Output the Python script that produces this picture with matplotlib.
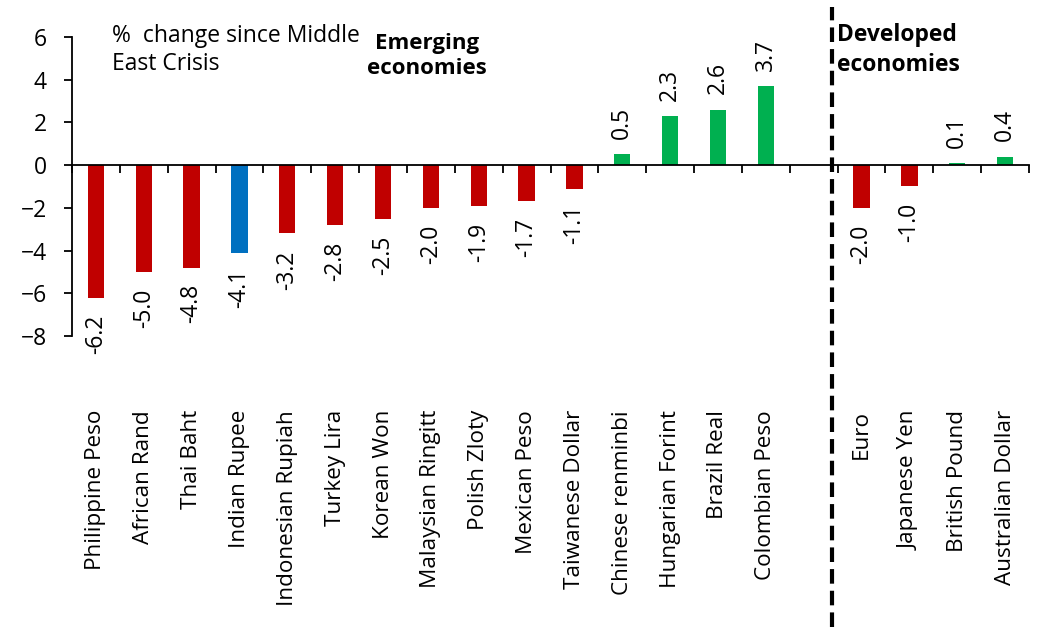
import numpy as np
import matplotlib
matplotlib.use('Agg')
import matplotlib.pyplot as plt
from matplotlib.transforms import blended_transform_factory

plt.rcParams['font.family'] = ['Open Sans', 'DejaVu Sans']

# Dados
emerging = ['Philippine Peso', 'African Rand', 'Thai Baht', 'Indian Rupee',
            'Indonesian Rupiah', 'Turkey Lira', 'Korean Won', 'Malaysian Ringitt',
            'Polish Zloty', 'Mexican Peso', 'Taiwanese Dollar', 'Chinese renminbi',
            'Hungarian Forint', 'Brazil Real', 'Colombian Peso']
emerging_vals = [-6.2, -5.0, -4.8, -4.1, -3.2, -2.8, -2.5, -2.0, -1.9, -1.7,
                 -1.1, 0.5, 2.3, 2.6, 3.7]
developed = ['Euro', 'Japanese Yen', 'British Pound', 'Australian Dollar']
developed_vals = [-2.0, -1.0, 0.1, 0.4]
highlight = 'Indian Rupee'

RED, GREEN, BLUE = '#C00000', '#00B050', '#0070C0'

names = emerging + developed
vals = emerging_vals + developed_vals
pos = np.concatenate([np.arange(len(emerging)),
                      len(emerging) + 1 + np.arange(len(developed))])
colors = [BLUE if n == highlight else (GREEN if v > 0 else RED)
          for n, v in zip(names, vals)]

fig = plt.figure(figsize=(10.38, 6.27), dpi=100)
ax = fig.add_axes([72/1038, 1 - 336/627, (1029 - 72)/1038, (336 - 37)/627])

ax.bar(pos, vals, width=0.34, color=colors, zorder=2)

# Rótulos de valor
for x, v in zip(pos, vals):
    ax.annotate(f'{v:.1f}', (x, v), xytext=(0, 11 if v > 0 else -12),
                textcoords='offset points', rotation=90, ha='center',
                va='bottom' if v > 0 else 'top', fontsize=16.5)

ax.set_xlim(-0.5, pos[-1] + 0.5)
ax.set_ylim(-8, 6)
ax.set_yticks(np.arange(-8, 7, 2))
ax.tick_params(axis='y', labelsize=16.5, length=6, width=1.3, pad=12)

# Eixo x no zero, marcas entre categorias
ax.spines['bottom'].set_position(('data', 0))
ax.spines['top'].set_visible(False)
ax.spines['right'].set_visible(False)
ax.spines['left'].set_linewidth(1.3)
ax.spines['bottom'].set_linewidth(1.3)
ax.set_xticks(np.arange(-0.5, pos[-1] + 1, 1))
ax.set_xticklabels([])
ax.tick_params(axis='x', length=6, width=1.3, direction='out')

# Nomes das moedas
tr = blended_transform_factory(ax.transData, fig.transFigure)
for x, n in zip(pos, names):
    ax.text(x, 1 - 410/627, n, transform=tr, rotation=90, ha='center',
            va='top', fontsize=16.2)

# Linha divisória tracejada
sep = len(emerging) + 0.38
ax.plot([sep, sep], [0, 1 - 7/627], transform=tr, color='black',
        lw=3, ls=(0, (3.5, 1.7)), clip_on=False, zorder=3)

# Anotações
fig.text(112/1038, 1 - 50/627, '%  change since Middle\nEast Crisis',
         fontsize=16.5, va='center', ha='left', linespacing=1.25)
fig.text(427/1038, 1 - 56/627, 'Emerging\neconomies', fontsize=16,
         fontweight='bold', ha='center', va='center', linespacing=1.3)
fig.text(837/1038, 1 - 50/627, 'Developed\neconomies', fontsize=16.5,
         fontweight='bold', ha='left', va='center', linespacing=1.3)

fig.savefig('out.png', dpi=100)
